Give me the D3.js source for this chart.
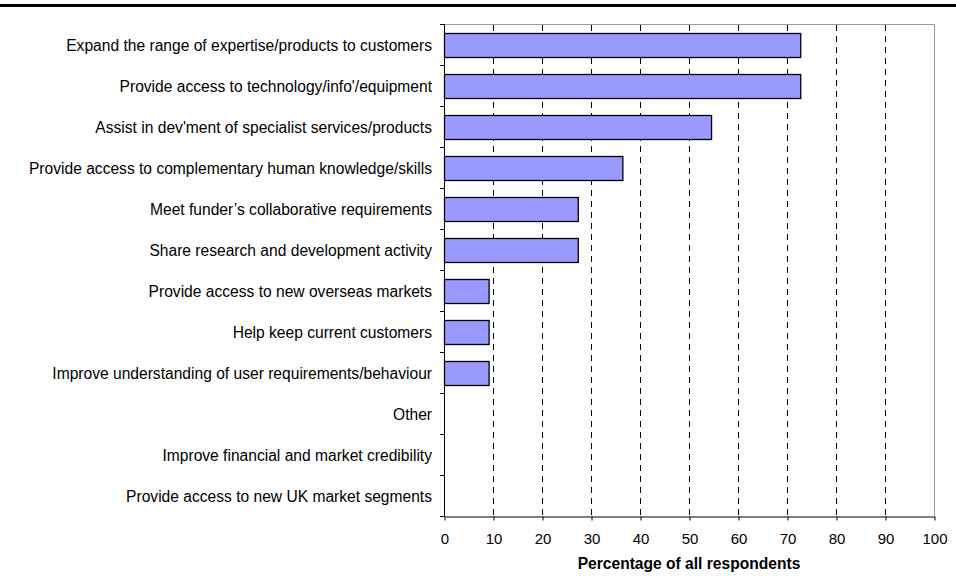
<!DOCTYPE html>
<html>
<head>
<meta charset="utf-8">
<script src="https://cdn.jsdelivr.net/npm/d3@7"></script>
<style>
  html, body { margin: 0; padding: 0; background: #fff; }
  svg { display: block; font-family: "Liberation Sans", Arial, sans-serif; }
</style>
</head>
<body>
<svg id="chart" width="956" height="576"></svg>
<script>
const categories = [
  "Expand the range of expertise/products to customers",
  "Provide access to technology/info'/equipment",
  "Assist in dev'ment of specialist services/products",
  "Provide access to complementary human knowledge/skills",
  "Meet funder\u2019s collaborative requirements",
  "Share research and development activity",
  "Provide access to new overseas markets",
  "Help keep current customers",
  "Improve understanding of user requirements/behaviour",
  "Other",
  "Improve financial and market credibility",
  "Provide access to new UK market segments"
];
const values = [72.7, 72.7, 54.5, 36.4, 27.3, 27.3, 9.1, 9.1, 9.1, 0, 0, 0];
const xTicks = [0, 10, 20, 30, 40, 50, 60, 70, 80, 90, 100];
const xTitle = "Percentage of all respondents";

(function () {
const svg = d3.select("#chart");
const pL = 444, pR = 934, pT = 24, pB = 516;

// top rule
svg.append("rect").attr("x", 0).attr("y", 4).attr("width", 956).attr("height", 3).attr("fill", "#000");

const x = d3.scaleLinear().domain([0, 100]).range([pL, pR]);
const y = d3.scaleBand().domain(categories).range([pT, pB])
  .paddingInner(0.415).paddingOuter(0.2075);
const step = y.step();

// plot border (top/right grey)
svg.append("path")
  .attr("d", `M${pL},${pT + 0.5}H${pR + 0.5}V${pB}`)
  .attr("fill", "none").attr("stroke", "#999").attr("stroke-width", 1);

// gridlines
svg.append("g").selectAll("line")
  .data(xTicks.filter(d => d > 0 && d < 100))
  .join("line")
  .attr("x1", d => Math.round(x(d)) + 0.5).attr("x2", d => Math.round(x(d)) + 0.5)
  .attr("y1", pT + 1).attr("y2", pB)
  .attr("stroke", "#000").attr("stroke-width", 1)
  .attr("stroke-dasharray", "6,5");

// bars
svg.append("g").selectAll("rect")
  .data(categories.map((c, i) => ({ c, v: values[i] })).filter(d => d.v > 0))
  .join("rect")
  .attr("x", x(0) + 0.5)
  .attr("y", d => Math.round(y(d.c)) + 0.5)
  .attr("width", d => x(d.v) - x(0))
  .attr("height", Math.round(y.bandwidth()))
  .attr("fill", "#9999FF")
  .attr("stroke", "#000").attr("stroke-width", 1.3);

// bottom axis
const xAxis = svg.append("g")
  .attr("transform", `translate(0.5,${pB + 0.5})`)
  .call(d3.axisBottom(x).tickValues(xTicks).tickSize(4).tickSizeOuter(0).tickPadding(13));
xAxis.select(".domain").attr("stroke", "#000");
xAxis.selectAll(".tick line").attr("stroke", "#000");
xAxis.selectAll("text").attr("font-size", 15).attr("fill", "#000")
  .attr("font-family", "'Liberation Sans', Arial, sans-serif");

// left axis line with ticks at band boundaries
svg.append("line").attr("x1", pL + 0.5).attr("x2", pL + 0.5)
  .attr("y1", pT).attr("y2", pB + 1).attr("stroke", "#000");
const boundaries = categories.map(c => y(c) - (step - y.bandwidth()) / 2);
boundaries.push(pB);
svg.append("g").selectAll("line").data(boundaries).join("line")
  .attr("x1", pL - 4).attr("x2", pL)
  .attr("y1", d => Math.round(d) + 0.5).attr("y2", d => Math.round(d) + 0.5)
  .attr("stroke", "#000");

// category labels
svg.append("g").selectAll("text").data(categories).join("text")
  .attr("x", pL - 12)
  .attr("y", d => y(d) + y.bandwidth() / 2)
  .attr("dy", "0.4em")
  .attr("text-anchor", "end")
  .attr("font-size", 15.6)
  .attr("fill", "#000")
  .text(d => d);

// x title
svg.append("text")
  .attr("x", (pL + pR) / 2).attr("y", 568.5)
  .attr("text-anchor", "middle")
  .attr("font-size", 15.6).attr("font-weight", "bold").attr("fill", "#000")
  .text(xTitle);
})();
</script>
</body>
</html>
